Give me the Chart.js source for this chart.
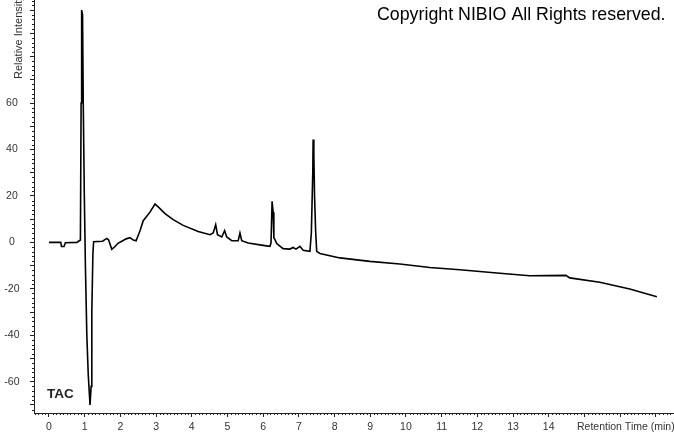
<!DOCTYPE html>
<html><head><meta charset="utf-8">
<script src="https://cdn.jsdelivr.net/npm/chart.js@4.4.1/dist/chart.umd.min.js"></script>
<style>html,body{margin:0;padding:0;background:#fff}#wrap{width:674px;height:434px;position:relative}canvas{display:block}</style>
</head><body><div id="wrap"><canvas id="c" width="674" height="434"></canvas></div>
<script>
// Retention time (min)
const times = [0, 0.33, 0.35, 0.42, 0.46, 0.78, 0.86, 0.88, 0.90, 0.915, 0.94, 0.96, 0.99, 1.02, 1.06, 1.10, 1.15, 1.18, 1.20, 1.23, 1.25,
  1.50, 1.62, 1.67, 1.76, 1.85, 1.94, 2.04, 2.16, 2.27, 2.36, 2.44, 2.55, 2.64, 2.83, 2.97, 3.06, 3.25, 3.48, 3.76, 4.18,
  4.51, 4.60, 4.67, 4.72, 4.84, 4.92, 4.98, 5.12, 5.30, 5.35, 5.40, 5.58, 6.00, 6.19, 6.22, 6.25, 6.28, 6.30, 6.33, 6.38,
  6.56, 6.75, 6.84, 6.92, 7.03, 7.12, 7.31, 7.35, 7.39, 7.40, 7.42, 7.44, 7.47, 7.50, 7.59, 8.15, 8.99, 9.83, 10.67, 11.51,
  12.55, 13.47, 14.48, 14.59, 15.43, 16.27, 17.03];
// Relative intensity
const intensity = [0, 0, -1.8, -1.8, -0.2, 0, 0.8, 1, 60, 100, 98, 60, 20, -10, -40, -57, -70, -62, -30, -5, 0.3,
  0.5, 1.7, 1, -3, -1.8, -0.3, 0.5, 1.5, 2, 1, 0.7, 5, 9.3, 13, 16.5, 15.3, 12.4, 9.8, 7.3, 4.7,
  3.3, 4, 7.6, 3.3, 2.3, 5, 2.3, 0.7, 0.7, 4, 0.7, -0.3, -1.3, -1.7, -0.3, 17.7, 13, 2, 1.2, -0.5,
  -2.7, -2.9, -2.2, -2.9, -1.7, -3.4, -3.9, 4, 30, 44.3, 38, 20, 5, -3.9, -4.8, -6.7, -8.2, -9.3, -10.8, -11.8,
  -13.2, -14.4, -14.2, -15.3, -17.2, -20.1, -23.4];
const xTickLabels = [0, 1, 2, 3, 4, 5, 6, 7, 8, 9, 10, 11, 12, 13, 14];
const yTickLabels = [-60, -40, -20, 0, 20, 40, 60];
const xTitle = 'Retention Time (min)';
const yTitle = 'Relative Intensity';
const traceName = 'TAC';
const copyright = 'Copyright NIBIO All Rights reserved.';

const FONT = '"Liberation Sans", Arial, sans-serif';
const AXIS = '#222';

const minorTicks = {
  id: 'minorTicks',
  afterDraw(chart) {
    const ctx = chart.ctx, xs = chart.scales.x, ys = chart.scales.y;
    ctx.save();
    ctx.strokeStyle = AXIS; ctx.lineWidth = 1;
    ctx.beginPath();
    for (let i = Math.ceil(xs.min * 10); i <= Math.floor(xs.max * 10); i++) {
      if (i % 10 === 0) continue;
      const px = Math.round(xs.getPixelForValue(i / 10)) + 0.5;
      ctx.moveTo(px, ys.bottom); ctx.lineTo(px, ys.bottom + 2);
    }
    for (let v = Math.ceil(ys.min / 2) * 2; v <= ys.max; v += 2) {
      if (v % 10 === 0) continue;
      const py = Math.round(ys.getPixelForValue(v)) + 0.5;
      ctx.moveTo(xs.left - 2, py); ctx.lineTo(xs.left, py);
    }
    ctx.stroke();
    ctx.fillStyle = '#333';
    ctx.font = '10.5px ' + FONT;
    ctx.textBaseline = 'alphabetic';
    ctx.textAlign = 'left';
    ctx.fillText(xTitle, 577, 430);
    ctx.save();
    ctx.translate(22, 79);
    ctx.rotate(-Math.PI / 2);
    ctx.font = '11px ' + FONT;
    ctx.fillText(yTitle, 0, 0);
    ctx.restore();
    ctx.fillStyle = '#222';
    ctx.font = 'bold 13.5px ' + FONT;
    ctx.fillText(traceName, 47, 398);
    ctx.fillStyle = '#000';
    ctx.font = '17.8px ' + FONT;
    ctx.fillText(copyright, 377, 20);
    ctx.restore();
  }
};

const zeroPad = s => { s.paddingTop = 0; s.paddingBottom = 0; s.paddingLeft = 0; s.paddingRight = 0; };
const stepTicks = (s, step) => {
  const out = [];
  for (let k = Math.ceil(s.min / step); k <= Math.floor(s.max / step); k++) out.push({ value: k * step });
  s.ticks = out;
};

new Chart(document.getElementById('c'), {
  type: 'line',
  data: {
    datasets: [{
      label: traceName,
      data: times.map((t, i) => ({ x: t, y: intensity[i] })),
      borderColor: '#000',
      borderWidth: 1.6,
      pointRadius: 0,
      tension: 0,
      fill: false
    }]
  },
  options: {
    responsive: false,
    devicePixelRatio: 1,
    animation: false,
    layout: { padding: 0 },
    plugins: { legend: { display: false }, tooltip: { enabled: false }, title: { display: false } },
    scales: {
      x: {
        type: 'linear', position: 'bottom', min: -0.42, max: 17.51,
        afterBuildTicks: s => stepTicks(s, 1),
        afterFit: s => { s.height = 21; zeroPad(s); },
        ticks: {
          autoSkip: false, maxRotation: 0, minRotation: 0, padding: 4, color: '#333',
          font: { family: FONT, size: 10.5 },
          callback: v => xTickLabels.includes(Math.round(v)) ? String(Math.round(v)) : ''
        },
        grid: { drawOnChartArea: false, drawTicks: true, tickLength: 4, color: AXIS },
        border: { display: true, color: AXIS, width: 1 }
      },
      y: {
        type: 'linear', position: 'left', min: -73.48, max: 104.35,
        afterBuildTicks: s => stepTicks(s, 10),
        afterFit: s => { s.width = 34; zeroPad(s); },
        ticks: {
          autoSkip: false, crossAlign: 'center', padding: 10.5, color: '#333',
          font: { family: FONT, size: 10.5 },
          callback: v => yTickLabels.includes(Math.round(v)) ? String(Math.round(v)) : ''
        },
        grid: { drawOnChartArea: false, drawTicks: true, tickLength: 4, color: AXIS },
        border: { display: true, color: AXIS, width: 1 }
      }
    }
  },
  plugins: [minorTicks]
});
</script>
</body></html>
